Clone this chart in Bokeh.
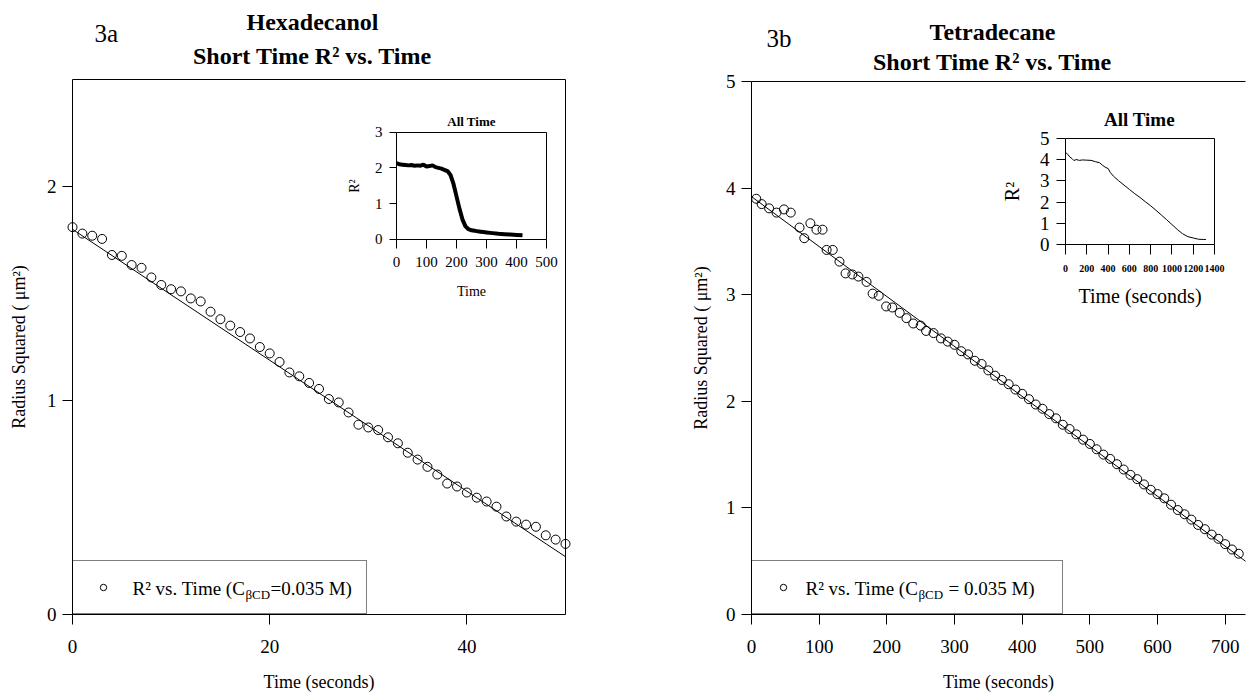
from bokeh.plotting import figure
from bokeh.models import (Range1d, LinearAxis, FixedTicker, Legend, LegendItem,
                          ColumnDataSource)
from bokeh.core.properties import value
from bokeh.layouts import row
from bokeh.embed import file_html
from bokeh.resources import INLINE

FONT = "Liberation Serif"

# ---------------- data ----------------
hex_t = list(range(0, 51))
hex_r2 = [1.81, 1.78, 1.77, 1.755, 1.68, 1.676, 1.633, 1.62, 1.575, 1.54,
          1.52, 1.51, 1.477, 1.463, 1.415, 1.38, 1.35, 1.32, 1.29, 1.25,
          1.22, 1.18, 1.131, 1.113, 1.082, 1.054, 1.007, 0.991, 0.944, 0.887,
          0.874, 0.862, 0.828, 0.80, 0.756, 0.724, 0.69, 0.654, 0.612, 0.598,
          0.57, 0.546, 0.528, 0.504, 0.458, 0.434, 0.42, 0.41, 0.37, 0.35, 0.33]
hex_fit_t = [0, 50]
hex_fit_r2 = [1.80, 0.27]

hex_all_t = [0, 10, 20, 30, 40, 50, 60, 70, 80, 90, 100, 110, 120, 130, 140,
             150, 160, 170, 180, 190, 200, 210, 220, 230, 240, 250, 260, 270,
             280, 290, 300, 320, 340, 360, 380, 400, 420]
hex_all_r2 = [2.13, 2.10, 2.09, 2.08, 2.07, 2.08, 2.06, 2.07, 2.06, 2.09, 2.04,
              2.05, 2.07, 2.02, 2.00, 1.98, 1.94, 1.91, 1.80, 1.55, 1.20, 0.85,
              0.55, 0.36, 0.28, 0.25, 0.24, 0.22, 0.21, 0.20, 0.19, 0.17, 0.15,
              0.14, 0.13, 0.12, 0.11]

tet_t = [7, 15, 26, 37, 48, 58, 71, 78, 87, 96, 105, 111, 120, 130, 139, 149,
         158, 170, 179, 188, 199, 208, 219, 229, 239, 250, 258, 269,
         280, 290, 300, 310, 320, 330, 340, 350, 360, 370, 380, 390, 400, 410,
         420, 430, 440, 450, 460, 470, 480, 490, 500, 510, 520, 530, 540, 550,
         560, 570, 580, 590, 600, 610, 620, 630, 640, 650, 660, 670, 680, 690,
         700, 710, 720]
tet_r2 = [3.90, 3.85, 3.81, 3.77, 3.80, 3.77, 3.63, 3.53, 3.67, 3.61, 3.61,
          3.42, 3.42, 3.31, 3.20, 3.19, 3.17, 3.12, 3.01, 2.99, 2.89, 2.88,
          2.83, 2.78, 2.73, 2.71, 2.66, 2.64,
          2.59, 2.56, 2.53, 2.47, 2.44, 2.38, 2.35, 2.29, 2.24, 2.20, 2.16,
          2.11, 2.07, 2.02, 1.97, 1.93, 1.88, 1.84, 1.78, 1.74, 1.69, 1.64,
          1.60, 1.55, 1.50, 1.46, 1.41, 1.36, 1.31, 1.27, 1.22, 1.17, 1.13,
          1.09, 1.03, 0.98, 0.94, 0.89, 0.84, 0.80, 0.75, 0.71, 0.66, 0.61, 0.57]
tet_fit_t = [0, 730]
tet_fit_r2 = [3.92, 0.50]

tet_all_t = [0, 20, 40, 60, 80, 100, 130, 160, 200, 240, 280, 320, 350, 380,
             400, 420, 450, 500, 550, 600, 650, 700, 750, 800, 850, 900, 950,
             1000, 1050, 1100, 1150, 1200, 1250, 1300, 1320]
tet_all_r2 = [4.33, 4.25, 4.12, 4.05, 3.95, 4.00, 3.96, 3.98, 3.97, 3.96, 3.90,
              3.85, 3.72, 3.62, 3.58, 3.40, 3.22, 3.00, 2.80, 2.60, 2.40, 2.22,
              2.02, 1.83, 1.62, 1.40, 1.18, 0.95, 0.72, 0.52, 0.38, 0.32, 0.26,
              0.25, 0.25]

hex_xticks = [0, 20, 40]
hex_yticks = [0, 1, 2]
tet_xticks = [0, 100, 200, 300, 400, 500, 600, 700]
tet_yticks = [0, 1, 2, 3, 4, 5]
hex_all_xticks = [0, 100, 200, 300, 400, 500]
hex_all_yticks = [0, 1, 2, 3]
tet_all_xticks = [0, 200, 400, 600, 800, 1000, 1200, 1400]
tet_all_yticks = [0, 1, 2, 3, 4, 5]

YLABEL = "Radius Squared ( \u03bcm\u00b2)"
XLABEL = "Time (seconds)"
LEG_A = ["R\u00b2 vs. Time (C", "\u03b2CD", "=0.035 M)"]
LEG_B = ["R\u00b2 vs. Time (C", "\u03b2CD", "= 0.035 M)"]

H = 694


def style_axis(ax, tick_out=10, label_size="19px", standoff=10, title_size="18px",
               title_standoff=10, label_style="normal"):
    ax.axis_line_color = "black"
    ax.axis_line_width = 1
    ax.major_tick_line_color = "black"
    ax.major_tick_out = tick_out
    ax.major_tick_in = 0
    ax.minor_tick_line_color = None
    ax.major_label_text_font = FONT
    ax.major_label_text_font_size = label_size
    ax.major_label_text_font_style = label_style
    ax.major_label_text_color = "black"
    ax.major_label_standoff = standoff
    ax.axis_label_text_font = FONT
    ax.axis_label_text_font_style = "normal"
    ax.axis_label_text_font_size = title_size
    ax.axis_label_text_color = "black"
    ax.axis_label_standoff = title_standoff


def bare_axis(ax):
    ax.axis_line_color = "black"
    ax.axis_line_width = 1
    ax.major_tick_line_color = None
    ax.minor_tick_line_color = None
    ax.major_label_text_font_size = "0px"


def panel(p, canvas, box, xlim, ylim, name, xticks, yticks, xlab, ylab, cfg,
          right_line=True):
    """Map a box (page px) of the canvas to data limits; draw its axes."""
    fl, ft, fr, fb = canvas
    il, it, ir, ib = box
    kx = (ir - il) / (xlim[1] - xlim[0])
    ky = (ib - it) / (ylim[1] - ylim[0])
    nx, ny = name + "_x", name + "_y"
    p.extra_x_ranges[nx] = Range1d(xlim[0] - (il - fl) / kx, xlim[0] + (fr - il) / kx)
    p.extra_y_ranges[ny] = Range1d(ylim[0] - (fb - ib) / ky, ylim[0] + (ib - ft) / ky)

    bx = LinearAxis(x_range_name=nx, y_range_name=ny, fixed_location=ylim[0],
                    bounds=(xlim[0], xlim[1]), ticker=FixedTicker(ticks=xticks),
                    axis_label=xlab)
    style_axis(bx, tick_out=cfg["xt_out"], label_size=cfg["xt_size"],
               standoff=cfg["xt_stand"], title_size=cfg["xl_size"],
               title_standoff=cfg["xl_stand"], label_style=cfg["xt_style"])
    p.add_layout(bx, "below")

    ly = LinearAxis(x_range_name=nx, y_range_name=ny, fixed_location=xlim[0],
                    bounds=(ylim[0], ylim[1]), ticker=FixedTicker(ticks=yticks),
                    axis_label=ylab)
    style_axis(ly, tick_out=cfg["yt_out"], label_size=cfg["yt_size"],
               standoff=cfg["yt_stand"], title_size=cfg["yl_size"],
               title_standoff=cfg["yl_stand"])
    p.add_layout(ly, "left")

    tx = LinearAxis(x_range_name=nx, y_range_name=ny, fixed_location=ylim[1],
                    bounds=(xlim[0], xlim[1]), ticker=FixedTicker(ticks=[]))
    bare_axis(tx)
    p.add_layout(tx, "above")
    if right_line:
        ry = LinearAxis(x_range_name=nx, y_range_name=ny, fixed_location=xlim[1],
                        bounds=(ylim[0], ylim[1]), ticker=FixedTicker(ticks=[]))
        bare_axis(ry)
        p.add_layout(ry, "right")
    return nx, ny


def texts(p, items):
    # items: (page x, page y of the text's middle, text, size, style, align)
    src = ColumnDataSource(dict(
        x=[i[0] for i in items], y=[H - i[1] for i in items],
        text=[i[2] for i in items], size=[i[3] for i in items],
        style=[i[4] for i in items], align=[i[5] for i in items]))
    p.text(x="x", y="y", text="text", source=src, text_font=value(FONT),
           text_font_size="size", text_font_style="style", text_align="align",
           text_baseline="middle", text_color="black")


def legend_box(p, renderer, left, glyph_w, label_w):
    p.add_layout(Legend(items=[LegendItem(label=" ", renderers=[renderer])],
                        location=(left, 80), margin=0, padding=18, spacing=0,
                        glyph_width=glyph_w, glyph_height=16, label_standoff=0,
                        label_width=label_w, label_height=16,
                        label_text_font_size="10px", border_line_color="black",
                        border_line_width=1, background_fill_color=None,
                        background_fill_alpha=0))


MAIN_CFG = dict(xt_out=10, xt_size="19px", xt_stand=15, xt_style="normal",
                xl_size="18px", xl_stand=16, yt_out=10, yt_size="19px", yt_stand=6,
                yl_size="18px", yl_stand=15)


def base_fig(x0, width):
    p = figure(width=width, height=H, x_range=Range1d(x0, x0 + width),
               y_range=Range1d(0, H), output_backend="svg", toolbar_location=None,
               x_axis_location=None, y_axis_location=None, title_location=None,
               min_border=0)
    p.outline_line_color = None
    p.background_fill_color = "white"
    p.xgrid.visible = False
    p.ygrid.visible = False
    p.grid.grid_line_color = None
    return p


# ---------------- panel 3a ----------------
pa = base_fig(0, 620)
CA = (0, 0, 620, H)
mx, my = panel(pa, CA, (72, 79, 565, 614), (0, 50), (0, 2.5), "ma",
               hex_xticks, hex_yticks, XLABEL, YLABEL, MAIN_CFG)
pa.line(hex_fit_t, hex_fit_r2, x_range_name=mx, y_range_name=my,
        line_color="black", line_width=1)
sc_a = pa.scatter(hex_t, hex_r2, x_range_name=mx, y_range_name=my, marker="circle",
                  size=9, fill_color=None, line_color="black", line_width=1)

ix, iy = panel(pa, CA, (396, 131.7, 546, 238.7), (0, 500), (0, 3), "ia",
               hex_all_xticks, hex_all_yticks, "Time", "R\u00b2",
               dict(xt_out=9, xt_size="15px", xt_stand=9, xt_style="normal",
                    xl_size="14px", xl_stand=13, yt_out=7, yt_size="15px", yt_stand=7,
                    yl_size="14px", yl_stand=10))
pa.line(hex_all_t, hex_all_r2, x_range_name=ix, y_range_name=iy,
        line_color="black", line_width=4)

legend_box(pa, sc_a, 72, 24, 233)
texts(pa, [(312, 21, "Hexadecanol", "24px", "bold", "center"),
           (312, 55, "Short Time R\u00b2 vs. Time", "24px", "bold", "center"),
           (94, 33, "3a", "25px", "normal", "left"),
           (471, 121, "All Time", "13px", "bold", "center"),
           (132, 588, LEG_A[0], "19px", "normal", "left"),
           (245, 594, LEG_A[1], "13px", "normal", "left"),
           (270, 588, LEG_A[2], "19px", "normal", "left")])

# ---------------- panel 3b ----------------
pb = base_fig(620, 626)
CB = (620, 0, 1246, H)
nx_, ny_ = panel(pb, CB, (751, 81, 1245, 614), (0, 730), (0, 5), "mb",
                 tet_xticks, tet_yticks, XLABEL, YLABEL,
                 dict(MAIN_CFG, yl_stand=12), right_line=False)
pb.line(tet_fit_t, tet_fit_r2, x_range_name=nx_, y_range_name=ny_,
        line_color="black", line_width=1)
sc_b = pb.scatter(tet_t, tet_r2, x_range_name=nx_, y_range_name=ny_, marker="circle",
                  size=9, fill_color=None, line_color="black", line_width=1)

jx, jy = panel(pb, CB, (1065, 137.7, 1214, 244.3), (0, 1400), (0, 5), "ib",
               tet_all_xticks, tet_all_yticks, "Time (seconds)", "R\u00b2",
               dict(xt_out=10, xt_size="10px", xt_stand=10, xt_style="bold",
                    xl_size="20px", xl_stand=10, yt_out=9, yt_size="19px", yt_stand=7,
                    yl_size="20px", yl_stand=14))
pb.line(tet_all_t, tet_all_r2, x_range_name=jx, y_range_name=jy,
        line_color="black", line_width=1)

legend_box(pb, sc_b, 131, 26, 248)
texts(pb, [(992, 31, "Tetradecane", "24px", "bold", "center"),
           (992, 61, "Short Time R\u00b2 vs. Time", "24px", "bold", "center"),
           (766, 38, "3b", "25px", "normal", "left"),
           (1139, 119, "All Time", "19px", "bold", "center"),
           (805, 588, LEG_B[0], "19px", "normal", "left"),
           (918, 594, LEG_B[1], "13px", "normal", "left"),
           (948, 588, LEG_B[2], "19px", "normal", "left")])

layout = row(pa, pb)
open("out.html", "w").write(file_html(layout, INLINE))
